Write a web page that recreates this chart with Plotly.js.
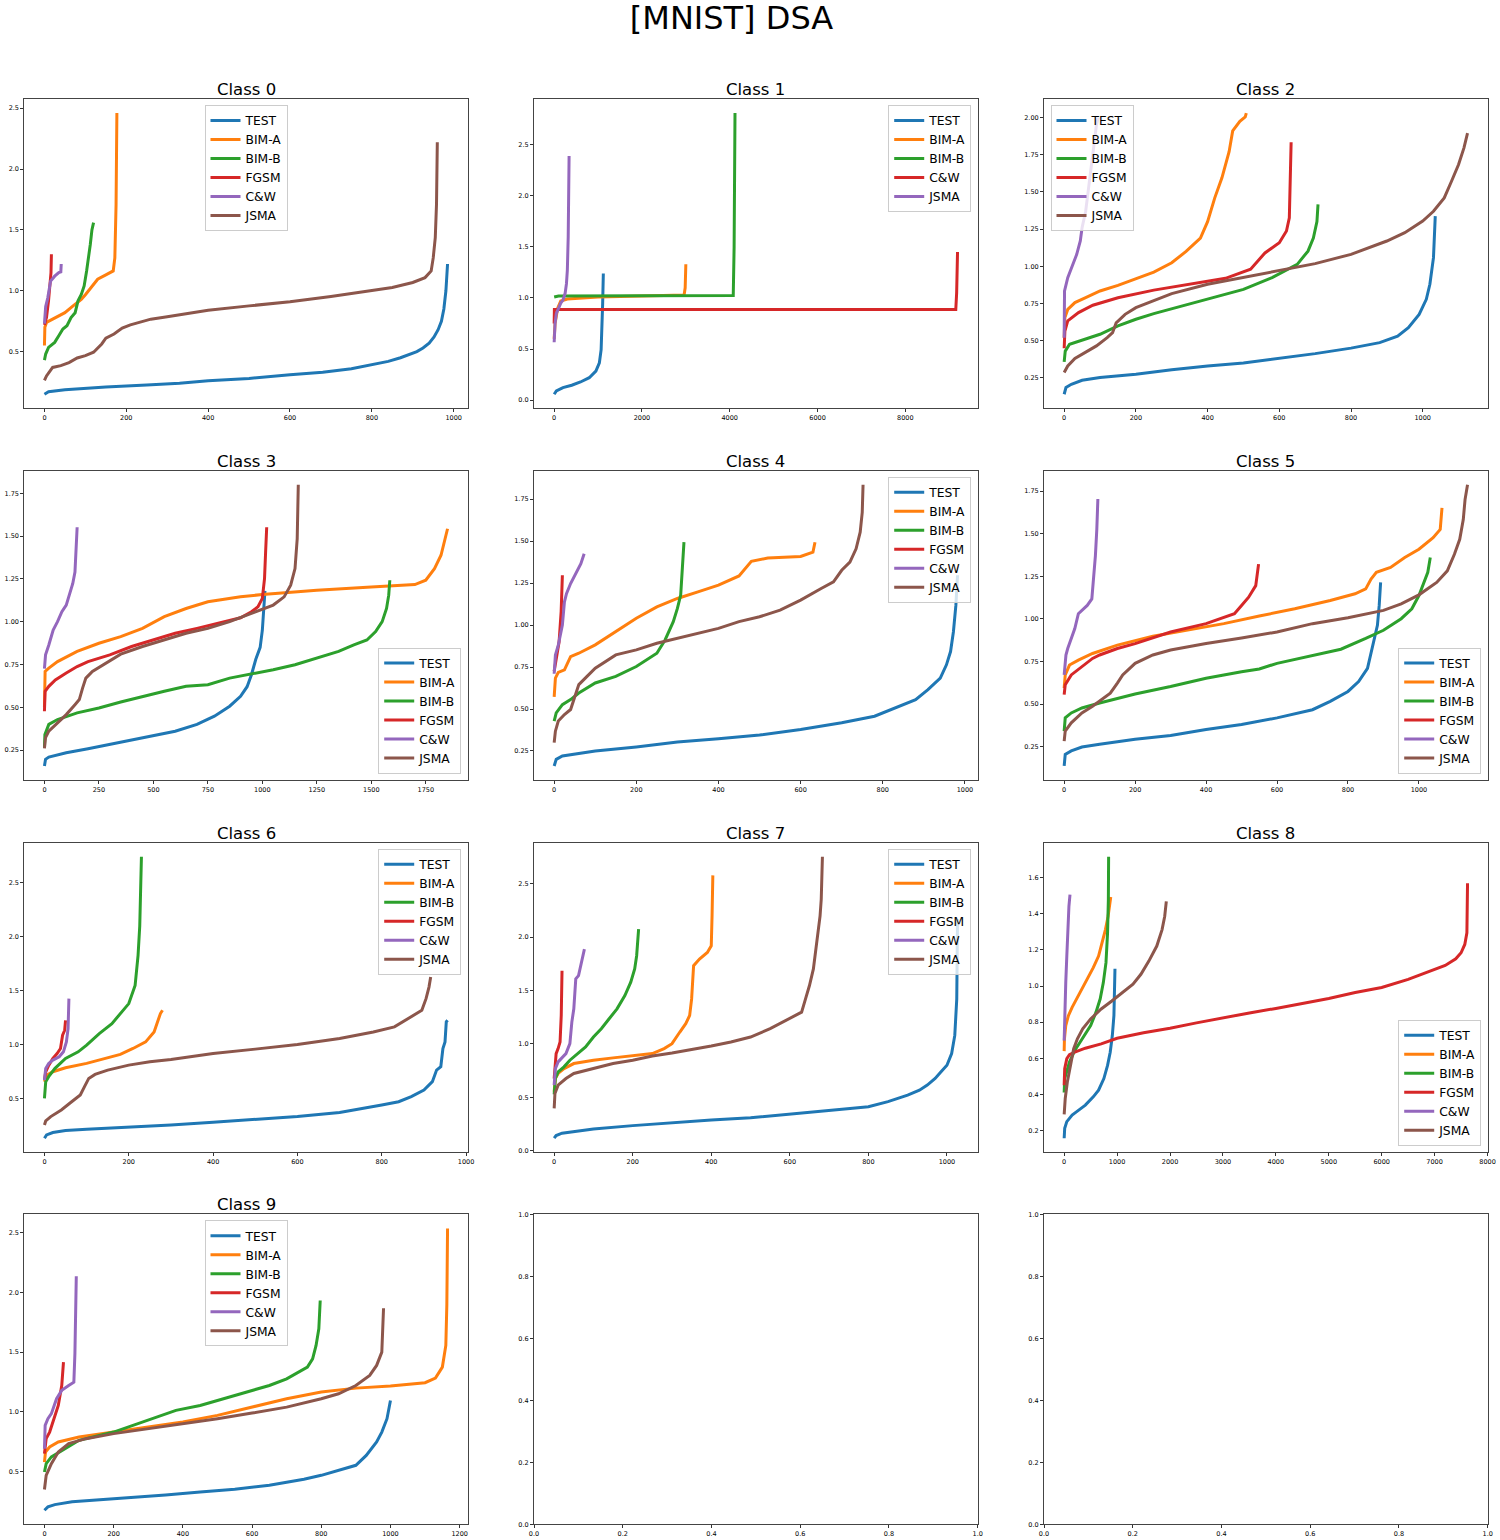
<!DOCTYPE html>
<html>
<head>
<meta charset="utf-8">
<script src="https://cdn.plot.ly/plotly-3.0.1.min.js"></script>
<style>html,body{margin:0;padding:0;background:#fff;}#chart{width:1500px;height:1540px;}</style>
</head>
<body>
<div id="chart"></div>
<script>
// ---------------- DATA ----------------
const mainTitle = '[MNIST] DSA';
const classTitles = ['Class 0','Class 1','Class 2','Class 3','Class 4','Class 5','Class 6','Class 7','Class 8','Class 9'];
const labels6 = ['TEST','BIM-A','BIM-B','FGSM','C&W','JSMA'];
const labels5 = ['TEST','BIM-A','BIM-B','C&W','JSMA'];

// Class 0
const c0_TEST = [[0,0.15],[10,0.17],[50,0.186],[150,0.21],[250,0.225],[330,0.24],[400,0.26],[500,0.28],[600,0.31],[680,0.33],[750,0.36],[800,0.39],[840,0.42],[870,0.45],[910,0.50],[925,0.53],[940,0.57],[952,0.62],[962,0.68],[970,0.75],[976,0.85],[981,1.0],[983,1.16],[985,1.22]];
const c0_BIMA = [[0,0.55],[1,0.70],[5,0.74],[20,0.767],[50,0.82],[70,0.876],[90,0.93],[100,0.967],[120,1.054],[130,1.095],[150,1.13],[168,1.163],[172,1.27],[175,1.71],[177,2.46]];
const c0_BIMB = [[0,0.43],[3,0.48],[10,0.535],[25,0.576],[35,0.63],[45,0.686],[55,0.713],[65,0.78],[75,0.82],[82,0.917],[90,0.97],[97,1.04],[103,1.163],[108,1.27],[112,1.38],[116,1.50],[120,1.56]];
const c0_FGSM = [[0,0.72],[5,0.78],[10,0.92],[14,1.05],[16,1.15],[17,1.30]];
const c0_CW   = [[0,0.73],[3,0.87],[8,0.94],[15,1.08],[25,1.12],[35,1.15],[40,1.155],[41,1.22]];
const c0_JSMA = [[0,0.263],[5,0.30],[20,0.37],[40,0.385],[60,0.41],[80,0.448],[100,0.467],[120,0.495],[140,0.563],[150,0.61],[170,0.645],[190,0.694],[210,0.72],[260,0.767],[300,0.786],[400,0.84],[500,0.876],[600,0.91],[700,0.953],[800,1.0],[850,1.027],[900,1.068],[930,1.108],[945,1.163],[950,1.27],[955,1.436],[958,1.71],[960,2.22]];

// Class 1
const c1_TEST = [[0,0.058],[50,0.09],[200,0.123],[400,0.146],[600,0.178],[800,0.22],[950,0.285],[1030,0.366],[1070,0.495],[1090,0.69],[1105,0.95],[1120,1.24]];
const c1_BIMA = [[0,0.6],[20,0.75],[80,0.9],[150,0.97],[300,0.99],[1000,1.01],[2000,1.02],[2960,1.03],[2985,1.1],[3000,1.33]];
const c1_BIMB = [[0,1.01],[100,1.02],[4080,1.025],[4100,1.5],[4120,2.81]];
const c1_CW   = [[0,0.75],[5,0.887],[9150,0.887],[9170,1.05],[9190,1.45]];
const c1_JSMA = [[0,0.567],[20,0.75],[50,0.85],[100,0.90],[150,0.95],[200,0.98],[250,1.046],[280,1.14],[300,1.27],[320,1.6],[330,1.92],[340,2.39]];

// Class 2
const c2_TEST = [[0,0.14],[5,0.185],[20,0.207],[50,0.234],[100,0.252],[200,0.275],[300,0.304],[400,0.33],[500,0.35],[600,0.38],[700,0.413],[800,0.45],[880,0.487],[930,0.53],[960,0.588],[990,0.677],[1010,0.778],[1020,0.879],[1030,1.058],[1035,1.337]];
const c2_BIMA = [[0,0.52],[2,0.655],[10,0.71],[30,0.756],[60,0.789],[100,0.834],[150,0.872],[200,0.919],[250,0.961],[300,1.024],[340,1.10],[380,1.19],[400,1.30],[420,1.46],[440,1.595],[460,1.77],[470,1.91],[490,1.975],[505,2.004],[508,2.03]];
const c2_BIMB = [[0,0.357],[3,0.43],[15,0.476],[50,0.503],[100,0.543],[150,0.599],[200,0.644],[250,0.682],[300,0.715],[400,0.778],[500,0.845],[580,0.924],[650,1.013],[680,1.102],[695,1.19],[705,1.30],[708,1.416]];
const c2_FGSM = [[0,0.449],[2,0.565],[10,0.633],[40,0.689],[80,0.738],[150,0.789],[250,0.84],[350,0.879],[450,0.919],[520,0.98],[560,1.09],[600,1.158],[620,1.237],[628,1.326],[630,1.64],[633,1.834]];
const c2_CW   = [[0,0.52],[1,0.834],[10,0.924],[20,0.99],[35,1.08],[45,1.17],[50,1.26],[60,1.37],[70,1.57],[80,1.75],[90,1.95],[95,2.0]];
const c2_JSMA = [[0,0.286],[10,0.33],[30,0.38],[60,0.42],[90,0.465],[120,0.52],[135,0.554],[145,0.62],[170,0.677],[200,0.722],[250,0.767],[300,0.816],[400,0.879],[500,0.924],[600,0.968],[700,1.018],[800,1.08],[900,1.17],[950,1.226],[1000,1.304],[1030,1.37],[1060,1.46],[1080,1.57],[1100,1.684],[1115,1.796],[1125,1.895]];

// Class 3
const c3_TEST = [[0,0.157],[5,0.196],[20,0.209],[100,0.234],[200,0.258],[300,0.283],[400,0.306],[500,0.331],[600,0.36],[700,0.40],[780,0.448],[850,0.506],[900,0.564],[930,0.62],[950,0.69],[970,0.78],[990,0.85],[1000,0.95],[1008,1.10],[1012,1.18]];
const c3_BIMA = [[0,0.50],[3,0.709],[20,0.729],[60,0.767],[150,0.826],[250,0.874],[350,0.913],[450,0.961],[550,1.029],[650,1.077],[750,1.116],[900,1.145],[1000,1.159],[1250,1.184],[1500,1.203],[1700,1.217],[1750,1.242],[1790,1.31],[1820,1.388],[1845,1.504],[1850,1.543]];
const c3_BIMB = [[0,0.264],[2,0.34],[20,0.40],[60,0.428],[150,0.467],[250,0.496],[350,0.531],[450,0.564],[550,0.593],[650,0.622],[750,0.632],[850,0.67],[950,0.694],[1050,0.719],[1150,0.748],[1250,0.787],[1350,0.826],[1420,0.864],[1480,0.893],[1520,0.942],[1550,1.0],[1570,1.077],[1580,1.155],[1585,1.242]];
const c3_FGSM = [[0,0.477],[3,0.593],[20,0.622],[50,0.66],[100,0.70],[150,0.738],[200,0.767],[300,0.806],[400,0.855],[500,0.893],[600,0.932],[700,0.961],[800,0.99],[900,1.023],[950,1.058],[980,1.087],[1000,1.136],[1010,1.252],[1015,1.407],[1020,1.552]];
const c3_CW   = [[0,0.725],[5,0.806],[20,0.864],[40,0.951],[60,1.0],[80,1.058],[100,1.097],[115,1.155],[130,1.223],[140,1.29],[145,1.446],[150,1.552]];
const c3_JSMA = [[0,0.26],[5,0.322],[20,0.36],[60,0.409],[100,0.457],[140,0.515],[160,0.545],[175,0.612],[190,0.67],[220,0.709],[280,0.758],[350,0.81],[450,0.855],[550,0.893],[650,0.932],[750,0.961],[850,1.0],[950,1.048],[1050,1.097],[1100,1.145],[1130,1.213],[1150,1.31],[1160,1.484],[1165,1.80]];

// Class 4
const c4_TEST = [[0,0.161],[5,0.20],[20,0.22],[100,0.25],[200,0.274],[300,0.303],[400,0.323],[500,0.345],[600,0.378],[700,0.418],[780,0.457],[830,0.507],[880,0.556],[910,0.615],[940,0.684],[955,0.763],[965,0.842],[972,0.96],[978,1.118],[982,1.296]];
const c4_BIMA = [[0,0.572],[3,0.684],[10,0.718],[25,0.733],[40,0.812],[60,0.832],[100,0.882],[150,0.96],[200,1.04],[250,1.108],[300,1.158],[350,1.197],[400,1.237],[450,1.292],[480,1.379],[520,1.399],[600,1.408],[630,1.434],[635,1.493]];
const c4_BIMB = [[0,0.428],[5,0.477],[20,0.526],[40,0.556],[60,0.595],[80,0.625],[100,0.655],[150,0.694],[200,0.753],[250,0.832],[270,0.911],[290,1.02],[300,1.099],[308,1.178],[312,1.316],[316,1.493]];
const c4_FGSM = [[0,0.724],[5,0.80],[12,0.90],[17,1.08],[20,1.296]];
const c4_CW   = [[0,0.71],[3,0.822],[10,0.88],[20,1.0],[25,1.138],[30,1.187],[40,1.247],[55,1.316],[65,1.365],[73,1.424]];
const c4_JSMA = [[0,0.30],[3,0.368],[10,0.428],[25,0.467],[40,0.497],[50,0.566],[60,0.645],[80,0.694],[100,0.743],[150,0.822],[200,0.852],[250,0.891],[300,0.921],[350,0.95],[400,0.98],[450,1.02],[500,1.049],[550,1.089],[600,1.148],[650,1.217],[680,1.257],[700,1.326],[720,1.375],[735,1.454],[745,1.553],[750,1.671],[752,1.835]];

// Class 5
const c5_TEST = [[0,0.137],[3,0.205],[20,0.225],[50,0.248],[100,0.264],[200,0.293],[300,0.316],[400,0.351],[500,0.38],[600,0.419],[700,0.467],[750,0.516],[800,0.574],[830,0.632],[855,0.71],[865,0.807],[875,0.885],[883,0.962],[888,1.079],[892,1.214]];
const c5_BIMA = [[0,0.593],[3,0.671],[15,0.729],[40,0.758],[80,0.797],[150,0.846],[250,0.898],[350,0.937],[450,0.972],[550,1.017],[650,1.059],[750,1.108],[820,1.147],[850,1.176],[865,1.234],[880,1.273],[920,1.302],[960,1.36],[1000,1.409],[1040,1.476],[1060,1.525],[1065,1.651]];
const c5_BIMB = [[0,0.341],[3,0.419],[20,0.448],[50,0.477],[100,0.506],[200,0.559],[300,0.603],[400,0.652],[500,0.69],[550,0.706],[600,0.739],[700,0.784],[780,0.822],[850,0.885],[900,0.933],[950,1.001],[980,1.059],[1000,1.137],[1015,1.214],[1025,1.273],[1032,1.36]];
const c5_FGSM = [[0,0.555],[3,0.613],[20,0.671],[50,0.72],[80,0.768],[100,0.788],[150,0.826],[200,0.855],[300,0.923],[400,0.972],[450,1.011],[480,1.03],[500,1.079],[520,1.127],[540,1.195],[548,1.321]];
const c5_CW   = [[0,0.671],[5,0.788],[10,0.826],[20,0.885],[30,0.943],[40,1.03],[50,1.05],[65,1.079],[78,1.117],[83,1.234],[88,1.37],[92,1.525],[95,1.703]];
const c5_JSMA = [[0,0.283],[3,0.341],[20,0.39],[50,0.448],[80,0.487],[100,0.516],[130,0.564],[150,0.623],[165,0.671],[200,0.739],[250,0.788],[300,0.817],[400,0.855],[500,0.888],[600,0.923],[700,0.972],[800,1.007],[900,1.05],[950,1.088],[1000,1.141],[1050,1.214],[1080,1.282],[1100,1.379],[1115,1.467],[1125,1.583],[1130,1.70],[1137,1.787]];

// Class 6
const c6_TEST = [[0,0.137],[5,0.168],[20,0.19],[50,0.208],[100,0.22],[200,0.239],[300,0.26],[400,0.285],[500,0.313],[600,0.337],[700,0.374],[760,0.414],[800,0.445],[840,0.475],[870,0.522],[900,0.583],[920,0.66],[930,0.767],[940,0.798],[945,0.967],[950,1.028],[953,1.213],[956,1.228]];
const c6_BIMA = [[0,0.66],[5,0.72],[20,0.752],[50,0.789],[100,0.829],[150,0.881],[180,0.912],[210,0.967],[240,1.028],[260,1.12],[268,1.213],[275,1.29],[280,1.32]];
const c6_BIMB = [[0,0.506],[3,0.66],[10,0.706],[25,0.783],[50,0.875],[80,0.936],[100,0.998],[130,1.105],[160,1.197],[180,1.29],[200,1.382],[215,1.55],[222,1.827],[226,2.1],[228,2.5],[230,2.74]];
const c6_FGSM = [[0,0.675],[3,0.75],[10,0.81],[20,0.875],[30,0.92],[38,0.967],[43,1.09],[48,1.136],[50,1.228]];
const c6_CW   = [[0,0.675],[3,0.783],[10,0.829],[20,0.86],[35,0.89],[45,0.936],[52,1.028],[56,1.151],[58,1.428]];
const c6_JSMA = [[0,0.26],[3,0.297],[15,0.337],[40,0.399],[60,0.46],[85,0.537],[95,0.614],[105,0.69],[120,0.727],[150,0.767],[200,0.813],[250,0.844],[300,0.866],[400,0.921],[500,0.961],[600,1.004],[700,1.059],[780,1.12],[830,1.167],[870,1.259],[895,1.32],[905,1.428],[912,1.535],[916,1.627]];

// Class 7
const c7_TEST = [[0,0.118],[5,0.143],[20,0.165],[50,0.18],[100,0.205],[200,0.236],[300,0.264],[400,0.289],[500,0.31],[600,0.342],[700,0.373],[760,0.398],[800,0.413],[850,0.46],[900,0.522],[930,0.568],[950,0.615],[970,0.677],[985,0.739],[1000,0.801],[1012,0.91],[1020,1.08],[1025,1.42],[1027,2.17]];
const c7_BIMA = [[0,0.553],[3,0.677],[10,0.724],[25,0.77],[50,0.817],[100,0.848],[150,0.87],[200,0.888],[250,0.91],[280,0.957],[300,1.003],[320,1.112],[335,1.19],[345,1.267],[350,1.422],[355,1.733],[370,1.795],[390,1.857],[400,1.919],[402,2.2],[404,2.578]];
const c7_BIMB = [[0,0.528],[3,0.677],[10,0.739],[25,0.786],[40,0.848],[60,0.91],[80,0.972],[100,1.065],[120,1.143],[140,1.236],[160,1.329],[180,1.453],[195,1.578],[205,1.702],[210,1.826],[215,2.075]];
const c7_FGSM = [[0,0.677],[2,0.80],[5,0.91],[10,0.957],[15,1.019],[18,1.267],[20,1.686]];
const c7_CW   = [[0,0.615],[3,0.77],[10,0.832],[30,0.91],[40,1.003],[45,1.205],[50,1.329],[55,1.609],[62,1.64],[70,1.764],[77,1.888]];
const c7_JSMA = [[0,0.398],[2,0.537],[10,0.615],[30,0.677],[50,0.724],[100,0.77],[150,0.817],[200,0.848],[250,0.888],[300,0.916],[350,0.947],[400,0.981],[450,1.019],[500,1.065],[550,1.143],[600,1.236],[630,1.298],[640,1.422],[650,1.547],[660,1.702],[670,1.981],[677,2.199],[680,2.354],[683,2.752]];

// Class 8
const c8_TEST = [[0,0.158],[10,0.213],[50,0.25],[150,0.286],[250,0.308],[400,0.341],[550,0.387],[650,0.424],[750,0.488],[820,0.561],[870,0.634],[910,0.726],[940,0.836],[955,0.983],[960,1.096]];
const c8_BIMA = [[0,0.64],[5,0.708],[30,0.781],[80,0.836],[150,0.882],[250,0.937],[350,1.0],[450,1.047],[550,1.102],[650,1.166],[720,1.239],[780,1.312],[830,1.386],[860,1.45],[880,1.492]];
const c8_BIMB = [[0,0.411],[10,0.488],[100,0.579],[200,0.643],[300,0.689],[400,0.735],[500,0.781],[600,0.854],[680,0.928],[740,1.019],[790,1.129],[820,1.294],[835,1.477],[840,1.715]];
const c8_FGSM = [[0,0.451],[10,0.543],[50,0.598],[100,0.62],[200,0.634],[400,0.656],[700,0.68],[1000,0.711],[1500,0.741],[2000,0.766],[2500,0.796],[3000,0.825],[3500,0.851],[4000,0.876],[4500,0.904],[5000,0.931],[5500,0.964],[6000,0.992],[6500,1.037],[7000,1.089],[7200,1.114],[7400,1.151],[7500,1.184],[7570,1.23],[7610,1.294],[7622,1.569]];
const c8_CW   = [[0,0.698],[10,0.854],[30,1.019],[50,1.166],[70,1.331],[90,1.441],[110,1.505]];
const c8_JSMA = [[0,0.29],[20,0.378],[60,0.469],[120,0.561],[180,0.653],[250,0.708],[350,0.763],[500,0.818],[700,0.873],[900,0.917],[1100,0.964],[1300,1.01],[1450,1.065],[1600,1.138],[1750,1.221],[1850,1.312],[1900,1.386],[1930,1.468]];

// Class 9
const c9_TEST = [[0,0.177],[10,0.205],[30,0.224],[80,0.247],[150,0.263],[250,0.283],[350,0.305],[450,0.33],[550,0.352],[650,0.386],[750,0.436],[800,0.469],[850,0.511],[900,0.553],[930,0.636],[960,0.748],[975,0.831],[990,0.943],[1000,1.096]];
const c9_BIMA = [[0,0.58],[3,0.664],[15,0.706],[40,0.748],[100,0.79],[200,0.831],[300,0.873],[400,0.915],[500,0.971],[600,1.04],[700,1.11],[800,1.166],[900,1.199],[1000,1.216],[1100,1.244],[1130,1.283],[1150,1.375],[1160,1.556],[1163,1.9],[1165,2.536]];
const c9_BIMB = [[0,0.497],[5,0.567],[20,0.623],[60,0.692],[100,0.762],[200,0.831],[300,0.929],[380,1.013],[450,1.054],[550,1.138],[650,1.221],[700,1.277],[760,1.375],[775,1.444],[785,1.556],[793,1.695],[797,1.932]];
const c9_FGSM = [[0,0.65],[5,0.776],[15,0.831],[30,0.971],[40,1.054],[50,1.221],[55,1.416]];
const c9_CW   = [[0,0.692],[2,0.887],[10,0.943],[20,0.985],[35,1.11],[50,1.18],[70,1.221],[85,1.249],[88,1.486],[92,2.135]];
const c9_JSMA = [[0,0.35],[5,0.469],[20,0.567],[40,0.664],[70,0.734],[120,0.776],[200,0.818],[300,0.859],[400,0.901],[500,0.943],[600,0.99],[700,1.04],[800,1.11],[850,1.152],[900,1.221],[940,1.305],[960,1.389],[975,1.5],[980,1.868]];

// tick steps / formats per class
const xTickStep = [200, 2000, 200, 250, 200, 200, 200, 200, 1000, 200];
const yTickStep = [0.5, 0.5, 0.25, 0.25, 0.25, 0.25, 0.5, 0.5, 0.2, 0.5];
const yTickFmt  = ['.1f', '.1f', '.2f', '.2f', '.2f', '.2f', '.1f', '.1f', '.1f', '.1f'];
const legendLoc = ['upper center','upper right','upper left','lower right','upper right','lower right','upper right','upper right','lower right','upper center'];

// ---------------- BUILD ----------------
const classSeries = [
  [c0_TEST,c0_BIMA,c0_BIMB,c0_FGSM,c0_CW,c0_JSMA],
  [c1_TEST,c1_BIMA,c1_BIMB,c1_CW,c1_JSMA],
  [c2_TEST,c2_BIMA,c2_BIMB,c2_FGSM,c2_CW,c2_JSMA],
  [c3_TEST,c3_BIMA,c3_BIMB,c3_FGSM,c3_CW,c3_JSMA],
  [c4_TEST,c4_BIMA,c4_BIMB,c4_FGSM,c4_CW,c4_JSMA],
  [c5_TEST,c5_BIMA,c5_BIMB,c5_FGSM,c5_CW,c5_JSMA],
  [c6_TEST,c6_BIMA,c6_BIMB,c6_FGSM,c6_CW,c6_JSMA],
  [c7_TEST,c7_BIMA,c7_BIMB,c7_FGSM,c7_CW,c7_JSMA],
  [c8_TEST,c8_BIMA,c8_BIMB,c8_FGSM,c8_CW,c8_JSMA],
  [c9_TEST,c9_BIMA,c9_BIMB,c9_FGSM,c9_CW,c9_JSMA]
];
const classLabels = [labels6,labels5,labels6,labels6,labels6,labels6,labels6,labels6,labels6,labels6];
const palette = ['#1f77b4','#ff7f0e','#2ca02c','#d62728','#9467bd','#8c564b'];

const W = 1500, H = 1540;
const colLeft = [24.3, 534, 1044], colRight = [467.7, 977.7, 1487.7];
const rowTop = [99, 470.7, 842.7, 1214.3], rowBot = [408.3, 780, 1152.3, 1524.3];
const FONT = 'DejaVu Sans, Verdana, sans-serif';

const commonAxis = {
  showline: true, mirror: true, linecolor: '#444', linewidth: 1,
  ticks: 'outside', ticklen: 3, tickwidth: 1, tickcolor: '#333',
  showgrid: false, zeroline: false, fixedrange: true,
  tickfont: {family: FONT, size: 6.5, color: '#000'}
};

const traces = [];
const layout = {
  width: W, height: H,
  margin: {l: 0, r: 0, t: 0, b: 0},
  paper_bgcolor: '#ffffff', plot_bgcolor: '#ffffff',
  font: {family: FONT, color: '#000'},
  showlegend: true,
  title: {text: mainTitle, font: {family: FONT, size: 32, color: '#000'},
          x: 731.5 / W, xanchor: 'center', y: 1 - 17.5 / H, yanchor: 'middle'},
  annotations: []
};

for (let i = 0; i < 12; i++) {
  const r = Math.floor(i / 3), c = i % 3, n = i + 1;
  const s = n === 1 ? '' : String(n);
  const xa = Object.assign({}, commonAxis, {domain: [colLeft[c] / W, colRight[c] / W], anchor: 'y' + s});
  const ya = Object.assign({}, commonAxis, {domain: [1 - rowBot[r] / H, 1 - rowTop[r] / H], anchor: 'x' + s});
  if (i < 10) {
    const series = classSeries[i];
    let xmin = Infinity, xmax = -Infinity, ymin = Infinity, ymax = -Infinity;
    series.forEach(sr => sr.forEach(p => {
      xmin = Math.min(xmin, p[0]); xmax = Math.max(xmax, p[0]);
      ymin = Math.min(ymin, p[1]); ymax = Math.max(ymax, p[1]);
    }));
    const px = 0.05 * (xmax - xmin), py = 0.05 * (ymax - ymin);
    xa.range = [xmin - px, xmax + px];
    ya.range = [ymin - py, ymax + py];
    xa.tick0 = 0; xa.dtick = xTickStep[i];
    ya.tick0 = 0; ya.dtick = yTickStep[i]; ya.tickformat = yTickFmt[i];

    const legKey = i === 0 ? 'legend' : 'legend' + (i + 1);
    series.forEach((sr, k) => {
      traces.push({
        type: 'scatter', mode: 'lines',
        x: sr.map(p => p[0]), y: sr.map(p => p[1]),
        name: classLabels[i][k],
        line: {color: palette[k], width: 3},
        xaxis: 'x' + s, yaxis: 'y' + s,
        legend: legKey, hoverinfo: 'skip'
      });
    });

    const L = colLeft[c], R = colRight[c], T = rowTop[r], B = rowBot[r];
    const loc = legendLoc[i];
    const leg = {
      font: {family: FONT, size: 12.3, color: '#000'},
      bgcolor: 'rgba(255,255,255,0.8)', bordercolor: '#cccccc', borderwidth: 1,
      xref: 'paper', yref: 'paper', tracegroupgap: 0, itemwidth: 30
    };
    if (loc.indexOf('center') >= 0) { leg.x = (L + R) / 2 / W; leg.xanchor = 'center'; }
    else if (loc.indexOf('right') >= 0) { leg.x = (R - 6.5) / W; leg.xanchor = 'right'; }
    else { leg.x = (L + 6.5) / W; leg.xanchor = 'left'; }
    if (loc.indexOf('upper') >= 0) { leg.y = 1 - (T + 6) / H; leg.yanchor = 'top'; }
    else { leg.y = 1 - (B - 6.5) / H; leg.yanchor = 'bottom'; }
    layout[legKey] = leg;

    layout.annotations.push({
      text: classTitles[i], xref: 'paper', yref: 'paper',
      x: (L + R) / 2 / W, y: 1 - (T - 9.5) / H, xanchor: 'center', yanchor: 'middle',
      showarrow: false, font: {family: FONT, size: 16.5, color: '#000'}
    });
  } else {
    xa.range = [0, 1]; ya.range = [0, 1];
    xa.tick0 = 0; xa.dtick = 0.2; xa.tickformat = '.1f';
    ya.tick0 = 0; ya.dtick = 0.2; ya.tickformat = '.1f';
    traces.push({type: 'scatter', mode: 'lines', x: [], y: [], xaxis: 'x' + s, yaxis: 'y' + s, showlegend: false, hoverinfo: 'skip'});
  }
  layout['xaxis' + s] = xa;
  layout['yaxis' + s] = ya;
}

Plotly.newPlot('chart', traces, layout, {displayModeBar: false, staticPlot: true});
</script>
</body>
</html>
